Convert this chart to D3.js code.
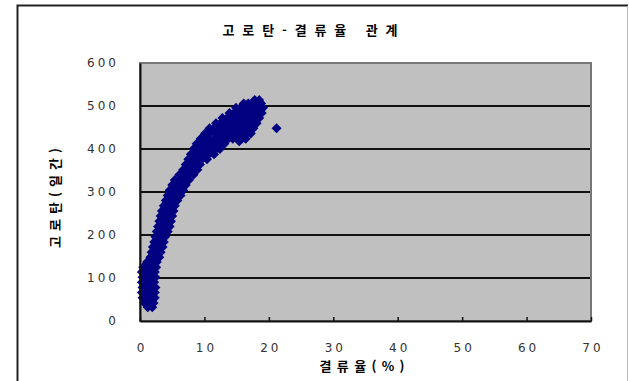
<!DOCTYPE html>
<html lang="ko">
<head>
<meta charset="UTF-8">
<title>고로탄-결류율 관계</title>
<style>
  html, body { margin: 0; padding: 0; background: #fff; }
  svg { display: block; }
  .tick-label { font-family: "DejaVu Sans", sans-serif; font-size: 12px; fill: #333; }
  .kr { font-family: "Noto Sans CJK KR", sans-serif; font-weight: bold; fill: #000; }
</style>
</head>
<body>
<div id="chart"></div>
<script src="https://d3js.org/d3.v7.min.js"></script>
<script>
// chart texts
const chartTitle = "고로탄-결류율 관계";
const xTitle = "결류율(%)";
const yTitle = "고로탄(일간)";

// axis ticks
const xTicks = [0, 10, 20, 30, 40, 50, 60, 70];
const yTicks = [0, 100, 200, 300, 400, 500, 600];

// samples: [결류율 %, 고로탄]
const samples = [
  [1.2, 32], [1.9, 32],
  [0.7, 42], [1.4, 42], [2.1, 42],
  [0.4, 54], [1.1, 54], [1.8, 54], [2.3, 54],
  [0.3, 66], [1.0, 66], [1.6, 66], [2.3, 66],
  [0.4, 78], [1.1, 78], [1.8, 78], [2.4, 78],
  [0.3, 90], [0.9, 90], [1.6, 90], [2.2, 90],
  [0.4, 102], [1.0, 102], [1.7, 102], [2.4, 102],
  [0.3, 114], [1.1, 114], [1.8, 114], [2.3, 114],
  [0.5, 125], [1.2, 125], [1.9, 125], [2.5, 125],
  [1.1, 137], [1.8, 137], [2.6, 137],
  [1.6, 148], [2.3, 148], [3.0, 148],
  [1.8, 160], [2.5, 160], [3.2, 160],
  [2.0, 172], [2.7, 172], [3.5, 172],
  [2.2, 184], [2.9, 184], [3.7, 184],
  [2.4, 196], [3.1, 196], [3.9, 196],
  [2.6, 208], [3.3, 208], [4.0, 208], [4.3, 208],
  [2.8, 220], [3.5, 220], [4.2, 220], [4.6, 220],
  [3.0, 232], [3.7, 232], [4.4, 232], [4.8, 232],
  [3.2, 244], [3.9, 244], [4.6, 244], [5.0, 244],
  [3.4, 256], [4.1, 256], [4.8, 256], [5.2, 256],
  [3.7, 268], [4.4, 268], [5.0, 268], [5.4, 268],
  [4.0, 280], [4.7, 280], [5.3, 280], [5.8, 280],
  [4.3, 292], [5.0, 292], [5.7, 292], [6.3, 292],
  [4.6, 304], [5.3, 304], [6.0, 304], [6.7, 304],
  [5.0, 316], [5.7, 316], [6.4, 316], [7.1, 316],
  [5.4, 328], [6.1, 328], [6.8, 328], [7.6, 328],
  [6.1, 340], [6.8, 340], [7.5, 340], [8.3, 340],
  [6.7, 352], [7.4, 352], [8.1, 352], [8.9, 352],
  [7.1, 364], [7.8, 364], [8.5, 364], [9.3, 364],
  [7.5, 376], [8.2, 376], [8.9, 376], [9.6, 376], [10.4, 376],
  [7.9, 388], [8.6, 388], [9.3, 388], [10.0, 388], [10.7, 388], [11.5, 388],
  [8.3, 400], [9.0, 400], [9.7, 400], [10.4, 400], [11.1, 400], [11.8, 400], [12.4, 400],
  [8.8, 412], [9.5, 412], [10.2, 412], [10.9, 412], [11.6, 412], [12.3, 412], [13.1, 412], [15.4, 418],
  [9.4, 424], [10.1, 424], [10.7, 424], [11.6, 424], [12.3, 424], [13.0, 424], [13.7, 424], [14.4, 424], [15.1, 424], [15.8, 424], [16.4, 424],
  [10.1, 436], [10.8, 436], [11.7, 436], [12.4, 436], [13.1, 436], [13.8, 436], [14.5, 436], [15.2, 436], [15.9, 436], [16.6, 436], [17.2, 436],
  [10.8, 448], [11.5, 448], [12.2, 448], [12.9, 448], [13.6, 448], [14.3, 448], [15.0, 448], [15.7, 448], [16.4, 448], [17.1, 448], [17.6, 448],
  [11.8, 460], [12.5, 460], [13.2, 460], [13.9, 460], [14.6, 460], [15.3, 460], [16.0, 460], [16.7, 460], [17.4, 460], [18.1, 460],
  [12.8, 472], [13.5, 472], [14.2, 472], [14.9, 472], [15.6, 472], [16.3, 472], [17.0, 472], [17.7, 472], [18.5, 472],
  [13.9, 484], [14.6, 484], [15.3, 484], [16.0, 484], [16.7, 484], [17.4, 484], [18.1, 484], [18.9, 484],
  [14.9, 496], [15.6, 496], [16.3, 496], [17.0, 496], [17.7, 496], [18.4, 496], [19.1, 496],
  [16.1, 506], [16.8, 506], [17.5, 506], [18.2, 506], [18.8, 506],
  [17.8, 514], [18.5, 514],
  [21.2, 448]
];

const width = 629;
const height = 381;
const plot = { left: 140, top: 63, right: 591, bottom: 321 };

const svg = d3.select('#chart')
  .append('svg')
  .attr('width', width)
  .attr('height', height);

// outer chart frame
svg.append('path')
  .attr('d', `M17.5,${height + 5} L17.5,5.5 L628,5.5`)
  .attr('fill', 'none')
  .attr('stroke', '#222')
  .attr('stroke-width', 2);
svg.append('line')
  .attr('x1', 627.5).attr('x2', 627.5)
  .attr('y1', 6).attr('y2', height)
  .attr('stroke', '#bbb');

const x = d3.scaleLinear().domain([0, 70]).range([plot.left, plot.right]);
const y = d3.scaleLinear().domain([0, 600]).range([plot.bottom, plot.top]);

// plot area
svg.append('rect')
  .attr('x', plot.left).attr('y', plot.top)
  .attr('width', plot.right - plot.left)
  .attr('height', plot.bottom - plot.top)
  .attr('fill', '#c0c0c0');

// gridlines
svg.append('g')
  .selectAll('line')
  .data(yTicks.filter(d => d > 0 && d < 600))
  .join('line')
  .attr('x1', plot.left).attr('x2', plot.right)
  .attr('y1', d => y(d)).attr('y2', d => y(d))
  .attr('stroke', '#111')
  .attr('stroke-width', 2);

svg.append('rect')
  .attr('x', plot.left).attr('y', plot.top)
  .attr('width', plot.right - plot.left)
  .attr('height', plot.bottom - plot.top)
  .attr('fill', 'none')
  .attr('stroke', '#777')
  .attr('stroke-width', 2);

// points (diamond markers)
const r = 5;
svg.append('g')
  .selectAll('path')
  .data(samples)
  .join('path')
  .attr('transform', d => `translate(${x(d[0])},${y(d[1])})`)
  .attr('d', `M0,${-r}L${r},0L0,${r}L${-r},0Z`)
  .attr('fill', '#000080');

// axes
const xAxis = svg.append('g')
  .attr('transform', `translate(0,${plot.bottom})`)
  .call(d3.axisBottom(x).tickValues(xTicks).tickSizeInner(-4).tickSizeOuter(0).tickPadding(22));
xAxis.select('.domain').attr('stroke', '#111').attr('stroke-width', 2);
xAxis.selectAll('line').attr('stroke', '#111').attr('stroke-width', 1.5);
xAxis.selectAll('text').attr('class', 'tick-label').attr('fill', null).style('letter-spacing', '3px').attr('dx', 1.5);

const yAxis = svg.append('g')
  .attr('transform', `translate(${plot.left},0)`)
  .call(d3.axisLeft(y).tickValues(yTicks).tickSize(0).tickPadding(21));
yAxis.select('.domain').attr('stroke', '#111').attr('stroke-width', 2);
yAxis.selectAll('text').attr('class', 'tick-label').attr('fill', null).style('letter-spacing', '3px');

// titles
svg.append('text')
  .attr('class', 'kr')
  .attr('x', 310).attr('y', 35)
  .attr('text-anchor', 'middle')
  .attr('font-size', 13)
  .attr('textLength', 175)
  .attr('lengthAdjust', 'spacing')
  .text(chartTitle);

svg.append('text')
  .attr('class', 'kr')
  .attr('x', 362).attr('y', 371)
  .attr('text-anchor', 'middle')
  .attr('font-size', 13)
  .attr('textLength', 85)
  .attr('lengthAdjust', 'spacing')
  .text(xTitle);

svg.append('text')
  .attr('class', 'kr')
  .attr('transform', 'translate(60,198) rotate(-90)')
  .attr('text-anchor', 'middle')
  .attr('font-size', 13)
  .attr('textLength', 100)
  .attr('lengthAdjust', 'spacing')
  .text(yTitle);
</script>
</body>
</html>
